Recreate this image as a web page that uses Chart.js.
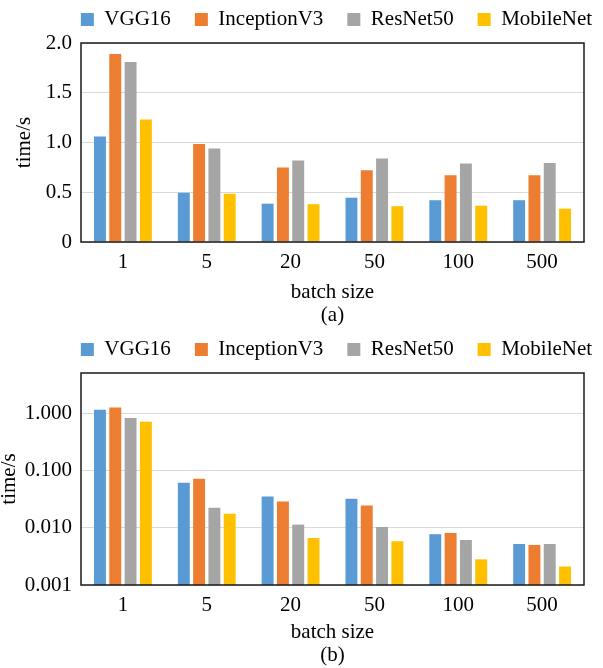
<!DOCTYPE html>
<html>
<head>
<meta charset="utf-8">
<script src="https://cdn.jsdelivr.net/npm/chart.js@4.4.1/dist/chart.umd.min.js"></script>
<style>
html,body{margin:0;padding:0;background:#fff;}
#wrap{width:603px;height:668px;position:relative;overflow:hidden;}
canvas{position:absolute;left:0;display:block;}
</style>
</head>
<body>
<div id="wrap">
<canvas id="c1" width="603" height="330" style="top:0"></canvas>
<canvas id="c2" width="603" height="338" style="top:330px"></canvas>
</div>
<script>
// ---- data ----
const categories = ['1', '5', '20', '50', '100', '500'];
const seriesNames = ['VGG16', 'InceptionV3', 'ResNet50', 'MobileNet'];
const seriesColors = ['#5B9BD5', '#ED7D31', '#A5A5A5', '#FFC000'];

// (a) linear time/s
const vgg16A     = [1.06, 0.495, 0.385, 0.445, 0.42, 0.42];
const inceptionA = [1.89, 0.985, 0.75, 0.72, 0.67, 0.67];
const resnetA    = [1.81, 0.94, 0.82, 0.84, 0.79, 0.795];
const mobileA    = [1.23, 0.485, 0.38, 0.36, 0.365, 0.335];

// (b) log time/s
const vgg16B     = [1.14, 0.061, 0.035, 0.032, 0.0077, 0.0052];
const inceptionB = [1.25, 0.0715, 0.0286, 0.0244, 0.0081, 0.0050];
const resnetB    = [0.82, 0.0222, 0.0113, 0.0103, 0.0061, 0.0052];
const mobileB    = [0.706, 0.0175, 0.0066, 0.0058, 0.0028, 0.0021];

const linearTicks = [0, 0.5, 1.0, 1.5, 2.0];
const logTicks = [0.001, 0.01, 0.1, 1];

const xTitleA = ['batch size', '(a)'];
const xTitleB = ['batch size', '(b)'];
const yTitle = 'time/s';

// ---- styling ----
const FONT = "'Liberation Serif','Times New Roman',Times,serif";
Chart.defaults.font.family = FONT;
Chart.defaults.font.size = 21;
Chart.defaults.color = '#000';

const frame = {
  id: 'frame',
  afterDraw(chart) {
    const {ctx, chartArea: a} = chart;
    ctx.save();
    ctx.strokeStyle = '#1a1a1a';
    ctx.lineWidth = 1.5;
    ctx.strokeRect(a.left, a.top, a.right - a.left, a.bottom - a.top);
    ctx.restore();
  }
};

const legendTweak = {
  id: 'legendTweak',
  beforeLayout(chart, args, opts) {
    const lg = chart.legend;
    if (!lg || lg._tweaked) return;
    lg._tweaked = true;
    const fit = lg.fit.bind(lg);
    lg.fit = function () { fit(); this.height = opts.height; };
    const key = typeof lg._draw === 'function' ? '_draw' : 'draw';
    const drw = lg[key].bind(lg);
    lg[key] = function () {
      this.ctx.save();
      this.ctx.translate(opts.dx, opts.dy);
      drw();
      this.ctx.restore();
    };
  }
};

function makeDatasets(seriesList) {
  return seriesNames.map((n, i) => ({
    label: n,
    data: seriesList[i],
    backgroundColor: seriesColors[i],
    borderWidth: 0,
    barPercentage: 0.78,
    categoryPercentage: 0.73
  }));
}

function makeChart(id, seriesList, yScale, xTitle, xHeight, xTitlePadBottom, yTitlePad) {
  yScale.grid = {color: '#d9d9d9', lineWidth: 1, drawTicks: false};
  yScale.border = {display: false};
  yScale.title = {display: true, text: yTitle, padding: {top: yTitlePad, bottom: 0}};
  yScale.afterFit = s => { s.width = 81; };
  return new Chart(document.getElementById(id), {
    type: 'bar',
    data: {labels: categories, datasets: makeDatasets(seriesList)},
    plugins: [frame, legendTweak],
    options: {
      responsive: false,
      animation: false,
      devicePixelRatio: 1,
      layout: {padding: 0},
      plugins: {
        legend: {
          position: 'top',
          labels: {boxWidth: 13, boxHeight: 13, padding: 24, color: '#000', font: {size: 21}}
        },
        legendTweak: {height: 43, dx: 35, dy: -15},
        tooltip: {enabled: false}
      },
      scales: {
        x: {
          grid: {display: false, drawTicks: false},
          border: {display: false},
          ticks: {padding: 8, color: '#000'},
          title: {display: true, text: xTitle, font: {size: 21, lineHeight: 1.1}, padding: {top: 0, bottom: xTitlePadBottom}},
          afterFit: s => { s.height = xHeight; }
        },
        y: yScale,
        yR: {
          type: 'linear',
          position: 'right',
          display: true,
          grid: {display: false},
          border: {display: false},
          ticks: {display: false},
          afterFit: s => { s.width = 19; }
        }
      }
    }
  });
}

makeChart('c1', [vgg16A, inceptionA, resnetA, mobileA], {
  type: 'linear',
  min: 0,
  max: 2,
  afterBuildTicks: s => { s.ticks = linearTicks.map(v => ({value: v})); },
  ticks: {padding: 9, color: '#000', callback: v => (v === 0 ? '0' : Number(v).toFixed(1))}
}, xTitleA, 88, 2.5, 12);

makeChart('c2', [vgg16B, inceptionB, resnetB, mobileB], {
  type: 'logarithmic',
  min: 0.001,
  max: 5,
  afterBuildTicks: s => { s.ticks = logTicks.map(v => ({value: v})); },
  ticks: {padding: 9, color: '#000', callback: v => Number(v).toFixed(3)}
}, xTitleB, 83, 0.5, -3);
</script>
</body>
</html>
